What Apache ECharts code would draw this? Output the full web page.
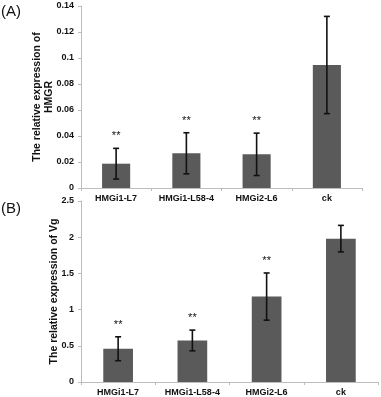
<!DOCTYPE html>
<html><head><meta charset="utf-8">
<script src="https://cdn.jsdelivr.net/npm/echarts@6/dist/echarts.min.js"></script>
<style>html,body{margin:0;padding:0;background:#fff}#c{width:381px;height:397px}</style>
</head><body><div id="c"></div>
<script>
const categories = ['HMGi1-L7', 'HMGi1-L58-4', 'HMGi2-L6', 'ck'];
const hmgrValues = [0.0187, 0.0267, 0.0259, 0.0946];
const hmgrErrors = [0.0118, 0.0158, 0.0163, 0.0374];
const hmgrMarks = ['**', '**', '**', ''];
const vgValues = [0.459, 0.574, 1.18, 1.98];
const vgErrors = [0.165, 0.143, 0.326, 0.183];
const vgMarks = ['**', '**', '**', ''];
const hmgrTicks = [0, 0.14, 0.02];
const vgTicks = [0, 2.5, 0.5];

const chart = echarts.init(document.getElementById('c'));
const font = 'Liberation Sans, Arial, sans-serif';
const barColor = '#5a5a5a';
const axisGray = '#bdbdbd';

function errSeries(xi, values, errors, marks) {
  return {
    type: 'custom', xAxisIndex: xi, yAxisIndex: xi, z: 5,
    data: values.map((v, i) => [i, v, errors[i]]),
    renderItem: function (params, api) {
      const i = api.value(0), v = api.value(1), e = api.value(2);
      const mark = marks[i];
      const top = api.coord([i, v + e]);
      const bot = api.coord([i, v - e]);
      const cw = 3;
      const st = { stroke: '#111', lineWidth: 1.6 };
      const ch = [
        { type: 'line', shape: { x1: top[0], y1: top[1], x2: bot[0], y2: bot[1] }, style: st },
        { type: 'line', shape: { x1: top[0] - cw, y1: top[1], x2: top[0] + cw, y2: top[1] }, style: st },
        { type: 'line', shape: { x1: bot[0] - cw, y1: bot[1], x2: bot[0] + cw, y2: bot[1] }, style: st }
      ];
      if (mark) {
        ch.push({ type: 'text', x: top[0], y: top[1] - 12,
          style: { text: mark, fill: '#111', font: '11px ' + font, align: 'center', verticalAlign: 'middle' } });
      }
      return { type: 'group', children: ch };
    }
  };
}

function xAx(gi) {
  return {
    type: 'category', gridIndex: gi, data: categories,
    axisLine: { lineStyle: { color: axisGray, width: 1 } },
    axisTick: { show: true, length: 3, lineStyle: { color: axisGray } },
    axisLabel: { color: '#111', fontWeight: 'bold', fontSize: 9, fontFamily: font, margin: 6, interval: 0 },
    splitLine: { show: false }
  };
}
function yAx(gi, ticks, name, gap) {
  return {
    type: 'value', gridIndex: gi, min: ticks[0], max: ticks[1], interval: ticks[2],
    name: name, nameLocation: 'middle', nameRotate: 90, nameGap: gap, nameMoveOverlap: false,
    nameTextStyle: { color: '#111', fontWeight: 'bold', fontSize: 10.5, fontFamily: font, lineHeight: 12 },
    axisLine: { show: true, lineStyle: { color: axisGray, width: 1 } },
    axisTick: { show: true, length: 3, lineStyle: { color: axisGray } },
    axisLabel: { color: '#111', fontWeight: 'bold', fontSize: 9, fontFamily: font, margin: 7,
      formatter: v => String(+v.toFixed(2)) },
    splitLine: { show: false }
  };
}

chart.setOption({
  animation: false,
  backgroundColor: '#fff',
  grid: [
    { left: 81, top: 6, width: 281, height: 182 },
    { left: 81, top: 201, width: 297, height: 181 }
  ],
  xAxis: [xAx(0), xAx(1)],
  yAxis: [
    yAx(0, hmgrTicks, 'The relative expression of\nHMGR', 26),
    yAx(1, vgTicks, 'The relative expression of Vg', 21)
  ],
  graphic: [
    { type: 'text', left: 1, top: 4, style: { text: '(A)', font: '15px ' + font, fill: '#111' } },
    { type: 'text', left: 1, top: 201, style: { text: '(B)', font: '15px ' + font, fill: '#111' } }
  ],
  series: [
    { type: 'bar', xAxisIndex: 0, yAxisIndex: 0, data: hmgrValues, barWidth: '40%', itemStyle: { color: barColor } },
    errSeries(0, hmgrValues, hmgrErrors, hmgrMarks),
    { type: 'bar', xAxisIndex: 1, yAxisIndex: 1, data: vgValues, barWidth: '40%', itemStyle: { color: barColor } },
    errSeries(1, vgValues, vgErrors, vgMarks)
  ]
});
</script></body></html>
